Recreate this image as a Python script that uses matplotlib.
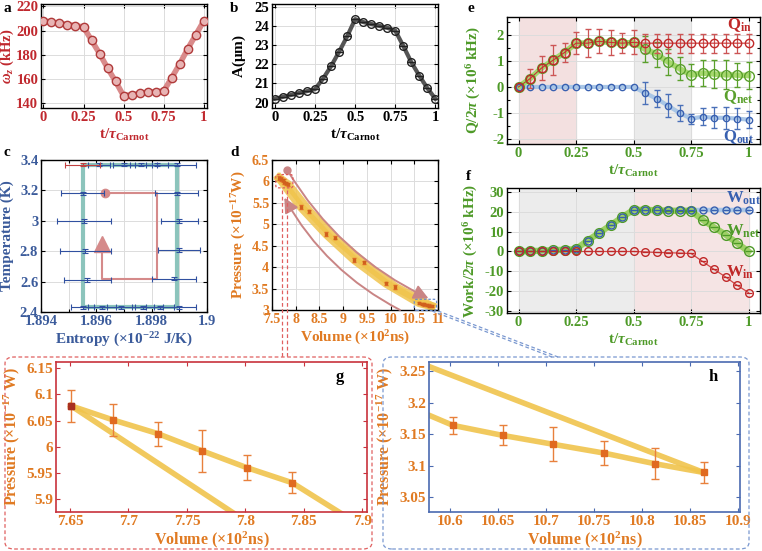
import numpy as np
import matplotlib.pyplot as plt
from matplotlib.patches import FancyBboxPatch
from matplotlib.lines import Line2D
from matplotlib.ticker import FormatStrFormatter, MultipleLocator

plt.rcParams['font.family'] = ['Liberation Serif', 'DejaVu Serif']
plt.rcParams['font.weight'] = 'bold'
plt.rcParams['axes.labelweight'] = 'bold'
plt.rcParams['mathtext.fontset'] = 'custom'
plt.rcParams['mathtext.rm'] = 'Liberation Serif:bold'
plt.rcParams['mathtext.it'] = 'Liberation Serif:italic:bold'
plt.rcParams['mathtext.bf'] = 'Liberation Serif:bold'
plt.rcParams['axes.linewidth'] = 1.0

# ---- data ----
t = [0, 0.05, 0.1, 0.15, 0.2, 0.25, 0.3, 0.35, 0.4, 0.45, 0.5,
     0.55, 0.6, 0.65, 0.7, 0.75, 0.8, 0.85, 0.9, 0.95, 1.0]
omega_z = [208, 207, 206, 205, 204, 203, 192, 181, 169, 158, 146,
           147, 148, 149, 149.5, 150, 161, 172.5, 185, 196.5, 208]
amp = [20.2, 20.3, 20.4, 20.5, 20.6, 20.7, 21.25, 21.9, 22.65, 23.45, 24.35,
       24.2, 24.1, 24.0, 23.9, 23.75, 22.95, 22.1, 21.4, 20.75, 20.2]

Q_in = [0, 0.32, 0.73, 1.03, 1.33, 1.69, 1.69, 1.76, 1.72, 1.69, 1.72,
        1.69, 1.69, 1.69, 1.69, 1.69, 1.69, 1.69, 1.69, 1.69, 1.69]
Q_in_err = [0, 0.36, 0.47, 0.58, 0.35, 0.43, 0.54, 0.46, 0.48, 0.38, 0.46,
            0.36, 0.36, 0.36, 0.36, 0.36, 0.36, 0.36, 0.36, 0.36, 0.36]
Q_net = [0, 0.32, 0.73, 1.03, 1.33, 1.69, 1.69, 1.76, 1.72, 1.69, 1.72,
         1.46, 1.27, 0.97, 0.71, 0.46, 0.54, 0.50, 0.47, 0.46, 0.44]
Q_net_err = [0, 0, 0, 0, 0, 0, 0, 0, 0, 0, 0,
             0.50, 0.48, 0.50, 0.45, 0.42, 0.50, 0.55, 0.56, 0.46, 0.51]
Q_out = [0, 0, 0, 0, 0, 0, 0, 0, 0, 0, 0,
         -0.23, -0.45, -0.72, -1.0, -1.22, -1.15, -1.19, -1.19, -1.22, -1.26]
Q_out_err = [0, 0, 0, 0, 0, 0, 0, 0, 0, 0, 0,
             0.41, 0.33, 0.43, 0.30, 0.19, 0.32, 0.40, 0.42, 0.39, 0.34]

W_out = [0, 0.2, 0.4, 0.7, 0.9, 1.2, 5.5, 9.3, 13.2, 17.2, 21,
         21, 21, 21, 21, 21, 21, 21, 21, 21, 21]
W_net = [0, 0.2, 0.4, 0.7, 0.9, 1.2, 5.5, 9.3, 13.2, 17.2, 21,
         21, 20.8, 20.5, 20.5, 20.5, 16, 12.2, 8.5, 4.3, 0]
W_in = [0, 0, 0, 0, 0, 0, 0, 0, 0, 0, 0,
        -0.2, -0.5, -0.6, -0.8, -1.0, -5, -9, -12.8, -17, -20.7]

# T-S diagram
ideal_S = [1.8955, 1.8989, 1.8989, 1.8955, 1.8955]
ideal_T = [2.43, 2.43, 3.37, 3.37, 2.43]
top_S = [1.8955, 1.8961, 1.8970, 1.8976, 1.8982, 1.8989]
top_S_err = [0.00065, 0.0004, 0.0004, 0.0004, 0.0004, 0.0007]
bottom_S = [1.8955, 1.8962, 1.8969, 1.8977, 1.8983, 1.8990]
bottom_S_err = [0.0004, 0.0005, 0.0005, 0.0004, 0.0005, 0.0006]
left_S = [1.8955, 1.89555, 1.8956, 1.89567]
left_T = [3.18, 3.0, 2.8, 2.61]
left_S_err = [0.00076, 0.00097, 0.00092, 0.00085]
right_S = [1.8989, 1.8990, 1.8990, 1.8988]
right_T = [3.18, 3.0, 2.81, 2.62]
right_S_err = [0.00078, 0.00066, 0.00076, 0.0008]
path_S = [1.8963, 1.8982, 1.8982, 1.8962, 1.8962]
path_T = [3.18, 3.18, 2.62, 2.62, 2.82]

# P-V diagram (cycle order)
V = [7.651, 7.687, 7.725, 7.763, 7.801, 7.840, 8.29, 8.82, 9.43, 10.10,
     10.864, 10.813, 10.760, 10.707, 10.655, 10.603, 9.90, 9.23, 8.64, 8.11]
P = [6.078, 6.051, 6.025, 5.992, 5.960, 5.931, 5.30, 4.69, 4.11, 3.54,
     3.089, 3.103, 3.120, 3.134, 3.148, 3.164, 3.62, 4.17, 4.77, 5.40]
P_err = [0.030, 0.030, 0.023, 0.040, 0.024, 0.020, 0.03, 0.03, 0.03, 0.03,
         0.016, 0.025, 0.019, 0.027, 0.016, 0.014, 0.03, 0.03, 0.03, 0.03]

RED = '#c0282e'
GREEN = '#4e9a28'
BLUE = '#3b5b9b'
ORANGE = '#e07a22'
YELLOW = '#f0c44c'
ROSE = '#c98585'

W, H = 762, 551
fig = plt.figure(figsize=(W / 100, H / 100), dpi=100)


def add_ax(l, t_, r, b):
    return fig.add_axes([l / W, 1 - b / H, (r - l) / W, (b - t_) / H])


def fx(x):
    return x / W


def fy(y):
    return 1 - y / H


def style(ax, color, size=10.5):
    ax.tick_params(which='both', direction='in', top=True, right=True,
                   length=3, width=0.8, labelsize=size, labelcolor=color, pad=2)
    ax.tick_params(which='minor', length=2)
    ax.grid(True, which='major', color='#dcdcdc', lw=0.7)
    ax.set_axisbelow(True)
    ax.xaxis.set_major_formatter(FormatStrFormatter('%g'))
    ax.yaxis.set_major_formatter(FormatStrFormatter('%g'))
    plt.setp(ax.get_xticklabels() + ax.get_yticklabels(), fontweight='bold')


tlabel = r't/$\tau_{\rm Carnot}$'

# ---- a ----
ax = add_ax(41, 4, 207, 108)
ax.plot(t, omega_z, color='#d98a8a', lw=4, zorder=2)
ax.plot(t, omega_z, 'o', ms=6, mfc='#e8b4b4', mec='#b03a3a', mew=1, zorder=3)
ax.set_xlim(-0.015, 1.02)
ax.set_ylim(136, 222)
ax.set_xticks([0, 0.25, 0.5, 0.75, 1])
ax.set_yticks([140, 160, 180, 200, 220])
style(ax, RED)
ax.set_ylabel(r'$\omega_z$ (kHz)', color=RED, fontsize=10.5)
ax.yaxis.set_label_coords(-0.15, 0.5)
ax.set_xlabel(tlabel, color=RED, fontsize=11, labelpad=2)
fig.text(fx(3), fy(12), 'a', fontsize=11, fontweight='bold')

# ---- b ----
ax = add_ax(272, 4, 438, 108)
ax.plot(t, amp, color='#555555', lw=3, zorder=2)
ax.plot(t, amp, 'o', ms=5.5, mfc='none', mec='#222222', mew=1, zorder=3)
ax.plot(t, amp, '_', ms=5.5, mec='#222222', mew=1, zorder=3)
ax.set_xlim(-0.018, 1.016)
ax.set_ylim(19.72, 25.14)
ax.set_xticks([0, 0.25, 0.5, 0.75, 1])
ax.set_yticks([20, 21, 22, 23, 24, 25])
style(ax, 'black')
ax.set_ylabel(r'A($\mathrm{\mu}$m)', color='black', fontsize=11)
ax.yaxis.set_label_coords(-0.145, 0.5)
ax.set_xlabel(tlabel, color='black', fontsize=11, labelpad=2)
fig.text(fx(230), fy(12), 'b', fontsize=11, fontweight='bold')

# ---- e ----
ax = add_ax(507, 17, 760, 144)
ax.axvspan(0, 0.25, color='#f3e0e0', zorder=0)
ax.axvspan(0.5, 0.75, color='#ebebeb', zorder=0)
ax.plot(t, Q_out, color='#a9c6e6', lw=3, zorder=2)
ax.plot(t, Q_net, color='#a6d86e', lw=4, zorder=2)
ax.errorbar(t[11:], Q_out[11:], yerr=Q_out_err[11:], fmt='none', ecolor='#4a70b8',
            elinewidth=0.9, capsize=2.5, zorder=3)
ax.errorbar(t[11:], Q_net[11:], yerr=Q_net_err[11:], fmt='none', ecolor='#5aa02c',
            elinewidth=0.9, capsize=2.5, zorder=3)
ax.errorbar(t[1:], Q_in[1:], yerr=Q_in_err[1:], fmt='none', ecolor='#cc5555',
            elinewidth=0.9, capsize=2.5, zorder=3)
ax.plot(t, Q_in, color='#c83232', lw=0.8, zorder=4)
ax.plot(t, Q_out, 'o', ms=4.5, mfc='none', mec='#3860b0', mew=1, zorder=5)
ax.plot(t, Q_net, 'o', ms=7, mfc='none', mec='#5aa02c', mew=1, zorder=5)
ax.plot(t, Q_in, 'o', ms=6, mfc='none', mec='#c02828', mew=1, zorder=6)
ax.set_xlim(-0.05, 1.05)
ax.set_ylim(-2.2, 2.7)
ax.set_xticks([0, 0.25, 0.5, 0.75, 1])
ax.set_yticks([-2, -1, 0, 1, 2])
ax.yaxis.set_minor_locator(MultipleLocator(0.5))
style(ax, GREEN)
ax.set_ylabel(r'Q/2$\pi$ ($\times$10$^6$ kHz)', color=GREEN, fontsize=11)
ax.yaxis.set_label_coords(-0.095, 0.5)
ax.set_xlabel(tlabel, color=GREEN, fontsize=11, labelpad=2)
ax.text(0.905, 2.38, r'Q$_{\rm in}$', color='#c02828', fontsize=12, va='center')
ax.text(0.89, -0.38, r'Q$_{\rm net}$', color='#5aa02c', fontsize=12, va='center')
ax.text(0.89, -1.92, r'Q$_{\rm out}$', color='#3860b0', fontsize=12, va='center')
fig.text(fx(467), fy(12), 'e', fontsize=11, fontweight='bold')

# ---- f ----
ax = add_ax(507, 188, 760, 313)
ax.axvspan(0, 0.5, color='#ececec', zorder=0)
ax.axvspan(0.5, 1.0, color='#f5e4e4', zorder=0)
ax.plot(t, W_out, color='#a9c6e6', lw=3, zorder=2)
ax.plot(t, W_net, color='#9dd066', lw=4.5, zorder=2)
ax.plot(t, W_in, color='#d04848', lw=0.9, zorder=3)
for vals, ms, ec, z in [(W_net, 7, '#4e9a28', 4), (W_out, 5, '#3860b0', 5), (W_in, 5.5, '#c02828', 5)]:
    ax.plot(t, vals, 'o', ms=ms, mfc='none', mec=ec, mew=1, zorder=z)
    ax.plot(t, vals, '_', ms=ms * 0.8, mec=ec, mew=0.9, zorder=z)
ax.set_xlim(-0.05, 1.05)
ax.set_ylim(-31, 32)
ax.set_xticks([0, 0.25, 0.5, 0.75, 1])
ax.set_yticks([-30, -20, -10, 0, 10, 20, 30])
style(ax, GREEN)
ax.set_ylabel(r'Work/2$\pi$ ($\times$10$^6$ kHz)', color=GREEN, fontsize=11)
ax.yaxis.set_label_coords(-0.105, 0.5)
ax.set_xlabel(tlabel, color=GREEN, fontsize=11, labelpad=2)
ax.text(0.9, 27, r'W$_{\rm out}$', color='#3860b0', fontsize=12, va='center')
ax.text(0.9, 10, r'W$_{\rm net}$', color='#4e9a28', fontsize=12, va='center')
ax.text(0.9, -10.5, r'W$_{\rm in}$', color='#c02828', fontsize=12, va='center')
fig.text(fx(466), fy(180), 'f', fontsize=11, fontweight='bold')

# ---- c ----
ax = add_ax(41, 160, 207, 312)
ax.plot(ideal_S, ideal_T, color='#8cc4bc', lw=3, zorder=2, solid_capstyle='butt')
ax.plot(path_S, path_T, color='#d58a8a', lw=1.5, zorder=3)
ax.plot(path_S[0], path_T[0], 'o', ms=6, color='#d58a8a', zorder=3)
ax.plot(path_S[-1], path_T[-1] + 0.03, '^', ms=11, color='#d58a8a', zorder=3)
ekw = dict(fmt='none', elinewidth=0.8, capsize=2, capthick=0.8, zorder=4)
ax.errorbar(top_S[1:], [3.37] * 5, xerr=top_S_err[1:], yerr=0.012, ecolor='#3050a0', **ekw)
ax.errorbar(top_S[:1], [3.37], xerr=top_S_err[:1], yerr=0.012, ecolor='#c04040', **ekw)
ax.errorbar(bottom_S, [2.43] * 6, xerr=bottom_S_err, yerr=0.012, ecolor='#3050a0', **ekw)
ax.errorbar(left_S, left_T, xerr=left_S_err, yerr=0.012, ecolor='#3050a0', **ekw)
ax.errorbar(right_S, right_T, xerr=right_S_err, yerr=0.012, ecolor='#3050a0', **ekw)
ax.set_xlim(1.894, 1.9)
ax.set_ylim(2.4, 3.4)
ax.set_xticks([1.894, 1.896, 1.898, 1.9])
ax.xaxis.set_minor_locator(MultipleLocator(0.001))
ax.set_yticks([2.4, 2.6, 2.8, 3.0, 3.2, 3.4])
style(ax, BLUE)
ax.grid(True, which='minor', axis='x', color='#dcdcdc', lw=0.7)
ax.set_ylabel('Temperature (K)', color=BLUE, fontsize=11)
ax.yaxis.set_label_coords(-0.165, 0.5)
ax.set_xlabel(r'Entropy ($\times$10$^{-22}$ J/K)', color=BLUE, fontsize=11, labelpad=2)
fig.text(fx(3), fy(156), 'c', fontsize=11, fontweight='bold')

# ---- d ----
ax = add_ax(272, 160, 438, 310)
line1_V, line1_P = V[:11], P[:11]
line2_V, line2_P = V[10:] + V[:1], P[10:] + P[:1]
ax.plot(line1_V, line1_P, color=YELLOW, lw=6, alpha=0.85, zorder=2)
ax.plot(line2_V, line2_P, color=YELLOW, lw=6, alpha=0.85, zorder=2)
ax.errorbar(V, P, yerr=np.array(P_err) * 1.4, fmt='s', ms=1.8, color='#d0601c',
            ecolor='#e06a28', elinewidth=0.8, capsize=1.5, zorder=4)
ax.plot(7.82, 6.27, 'o', ms=5, color=ROSE, zorder=5)
ax.annotate('', xy=(10.8, 3.27), xytext=(7.82, 6.27),
            arrowprops=dict(arrowstyle='-|>', color=ROSE, lw=1.4, mutation_scale=22,
                            shrinkA=0, shrinkB=0, connectionstyle='arc3,rad=0.15'))
ax.annotate('', xy=(7.76, 5.62), xytext=(10.2, 3.0),
            arrowprops=dict(arrowstyle='-|>', color=ROSE, lw=1.4, mutation_scale=22,
                            shrinkA=0, shrinkB=0, connectionstyle='arc3,rad=-0.15'))
ax.add_patch(FancyBboxPatch((7.58, 5.85), 0.36, 0.31, boxstyle='round,pad=0,rounding_size=0.05',
                            fill=False, ls=(0, (2, 1.5)), ec='#e05a5a', lw=0.9, zorder=6))
ax.add_patch(FancyBboxPatch((10.5, 2.99), 0.47, 0.26, boxstyle='round,pad=0,rounding_size=0.05',
                            fill=False, ls=(0, (2, 1.5)), ec='#6a8ccc', lw=0.9, zorder=6,
                            clip_on=False))
ax.set_xlim(7.5, 11)
ax.set_ylim(3, 6.5)
ax.set_xticks([7.5, 8, 8.5, 9, 9.5, 10, 10.5, 11])
ax.set_yticks([3, 3.5, 4, 4.5, 5, 5.5, 6, 6.5])
style(ax, ORANGE, size=10)
ax.set_ylabel(r'Pressure ($\times$10$^{-17}$W)', color=ORANGE, fontsize=11)
ax.yaxis.set_label_coords(-0.145, 0.5)
ax.set_xlabel(r'Volume ($\times$10$^2$ns)', color=ORANGE, fontsize=11, labelpad=2)
fig.text(fx(230), fy(156), 'd', fontsize=11, fontweight='bold')

# ---- g ----
ax = add_ax(56, 362, 367, 512)
ax.plot(line1_V, line1_P, color=YELLOW, lw=4, alpha=0.9, zorder=2)
ax.plot(line2_V, line2_P, color=YELLOW, lw=4, alpha=0.9, zorder=2)
ax.errorbar(V, P, yerr=P_err, fmt='s', ms=4, color='#e06a20', ecolor='#e8803c',
            elinewidth=1, capsize=3, zorder=4)
ax.plot(V[0], P[0], 's', ms=4, color='#a83020', zorder=5)
ax.set_xlim(7.638, 7.904)
ax.set_ylim(5.875, 6.162)
ax.set_xticks([7.65, 7.7, 7.75, 7.8, 7.85, 7.9])
ax.set_yticks([5.9, 5.95, 6.0, 6.05, 6.1, 6.15])
style(ax, ORANGE, size=11)
ax.grid(False)
for s in ax.spines.values():
    s.set_color('#c8323c')
    s.set_linewidth(1.2)
ax.tick_params(color='#c8323c')
ax.set_ylabel(r'Pressure ($\times$10$^{-17}$ W)', color=ORANGE, fontsize=11.5)
ax.yaxis.set_label_coords(-0.11, 0.5)
ax.set_xlabel(r'Volume ($\times$10$^2$ns)', color=ORANGE, fontsize=11.5, labelpad=1)
ax.text(0.9, 0.9, 'g', transform=ax.transAxes, fontsize=12, fontweight='bold', va='center')

# ---- h ----
ax = add_ax(429, 362, 740, 512)
ax.plot(line1_V, line1_P, color=YELLOW, lw=4, alpha=0.9, zorder=2)
ax.plot(line2_V, line2_P, color=YELLOW, lw=4, alpha=0.9, zorder=2)
ax.errorbar(V, P, yerr=P_err, fmt='s', ms=4, color='#e06a20', ecolor='#e8803c',
            elinewidth=1, capsize=3, zorder=4)
ax.set_xlim(10.578, 10.902)
ax.set_ylim(3.026, 3.265)
ax.set_xticks([10.6, 10.65, 10.7, 10.75, 10.8, 10.85, 10.9])
ax.set_yticks([3.05, 3.1, 3.15, 3.2, 3.25])
style(ax, ORANGE, size=11)
ax.grid(False)
for s in ax.spines.values():
    s.set_color('#4a6ab0')
    s.set_linewidth(1.2)
ax.tick_params(color='#4a6ab0')
ax.set_ylabel(r'Pressure ($\times$10$^{-17}$ W)', color=ORANGE, fontsize=11.5)
ax.yaxis.set_label_coords(-0.11, 0.5)
ax.set_xlabel(r'Volume ($\times$10$^2$ns)', color=ORANGE, fontsize=11.5, labelpad=1)
ax.text(0.9, 0.9, 'h', transform=ax.transAxes, fontsize=12, fontweight='bold', va='center')

# ---- dashed frames and connectors ----
fig.add_artist(FancyBboxPatch((fx(5), fy(549)), fx(367), (549 - 357) / H,
                              boxstyle='round,pad=0,rounding_size=0.012', fill=False,
                              ls=(0, (3, 2)), ec='#e06060', lw=0.9,
                              transform=fig.transFigure))
fig.add_artist(FancyBboxPatch((fx(383), fy(549)), fx(366), (549 - 357) / H,
                              boxstyle='round,pad=0,rounding_size=0.012', fill=False,
                              ls=(0, (3, 2)), ec='#7a98d0', lw=0.9,
                              transform=fig.transFigure))
for x0 in (282, 287):
    fig.add_artist(Line2D([fx(x0), fx(x0)], [fy(190), fy(357)], ls=(0, (3, 2)),
                          color='#e06060', lw=0.9, transform=fig.transFigure))
for dx in (0, 6):
    fig.add_artist(Line2D([fx(432 + dx), fx(552 + dx)], [fy(311), fy(357)], ls=(0, (3, 2)),
                          color='#7a98d0', lw=0.9, transform=fig.transFigure))

fig.savefig('out.png', dpi=100)
